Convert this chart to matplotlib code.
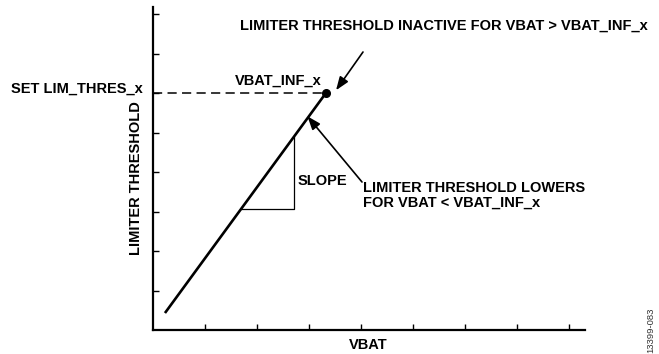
import numpy as np
import matplotlib
matplotlib.use("Agg")
import matplotlib.pyplot as plt

plt.rcParams['font.family'] = ['Liberation Sans', 'DejaVu Sans']

# battery voltage vs. limiter threshold (arbitrary units)
vbat = [0.23, 3.32]
threshold = [0.43, 5.99]
# slope marker: horizontal run from the line, then rise back to it
slope_x = [1.69, 2.71]
n_ticks = 8

W, H = 659, 354
fig = plt.figure(figsize=(W / 100, H / 100), dpi=100)


def fpx(x, y):
    # pixel position -> figure fraction
    return x / W, 1 - y / H


ax = fig.add_axes([153 / W, 1 - 330 / H, (585 - 153) / W, (330 - 7) / H])
ax.set_xlim(0, 432 / 52)
ax.set_ylim(0, 323 / 39.5)
for s in ['top', 'right']:
    ax.spines[s].set_visible(False)
for s in ['left', 'bottom']:
    ax.spines[s].set_linewidth(1.6)
ax.set_xticks(np.arange(1, n_ticks + 1))
ax.set_yticks(np.arange(1, n_ticks + 1))
ax.tick_params(direction='in', length=4, width=1, labelbottom=False, labelleft=False)

# threshold line and end dot
ax.plot(vbat, threshold, color='black', lw=1.9, solid_capstyle='butt')
ax.plot(vbat[1], threshold[1], 'o', color='black', ms=5.5)

# dashed level at the set threshold
ax.plot([0, vbat[1]], [threshold[1], threshold[1]], color='black', lw=1.1,
        dashes=(6, 3.5))

# slope triangle
k = (threshold[1] - threshold[0]) / (vbat[1] - vbat[0])
y0 = threshold[0] + (slope_x[0] - vbat[0]) * k
y1 = threshold[0] + (slope_x[1] - vbat[0]) * k
ax.plot([slope_x[0], slope_x[1], slope_x[1]], [y0, y0, y1], color='black', lw=0.9)

bold = dict(fontsize=10.5, fontweight='bold', color='black')
fig.text(*fpx(240, 26), 'LIMITER THRESHOLD INACTIVE FOR VBAT > VBAT_INF_x',
         ha='left', va='center', **bold)
fig.text(*fpx(235, 81), 'VBAT_INF_x', ha='left', va='center', **bold)
fig.text(*fpx(143, 89), 'SET LIM_THRES_x', ha='right', va='center', **bold)
fig.text(*fpx(298, 181), 'SLOPE', ha='left', va='center', **bold)
fig.text(*fpx(363, 181), 'LIMITER THRESHOLD LOWERS\nFOR VBAT < VBAT_INF_x',
         ha='left', va='top', linespacing=1.1, **bold)
fig.text(*fpx(368, 345), 'VBAT', ha='center', va='center', **bold)
fig.text(*fpx(136, 178), 'LIMITER THRESHOLD', ha='center', va='center',
         rotation=90, **bold)
fig.text(*fpx(651, 330), '13399-083', ha='center', va='center', rotation=90,
         fontsize=6.8, color='#333333')

# arrows pointing at the line
arrow = dict(arrowstyle='-|>,head_length=0.8,head_width=0.3', color='black',
             lw=1.2, shrinkA=0, shrinkB=0)
tip1 = vbat[1] + 0.2, threshold[1] + 0.08
ax.annotate('', xy=tip1, xytext=fpx(363, 52), textcoords='figure fraction',
            arrowprops=arrow, annotation_clip=False)
xt = 2.97
ax.annotate('', xy=(xt, threshold[0] + (xt - vbat[0]) * k + 0.05),
            xytext=fpx(362, 182), textcoords='figure fraction',
            arrowprops=arrow, annotation_clip=False)

fig.savefig('out.png', dpi=100)
